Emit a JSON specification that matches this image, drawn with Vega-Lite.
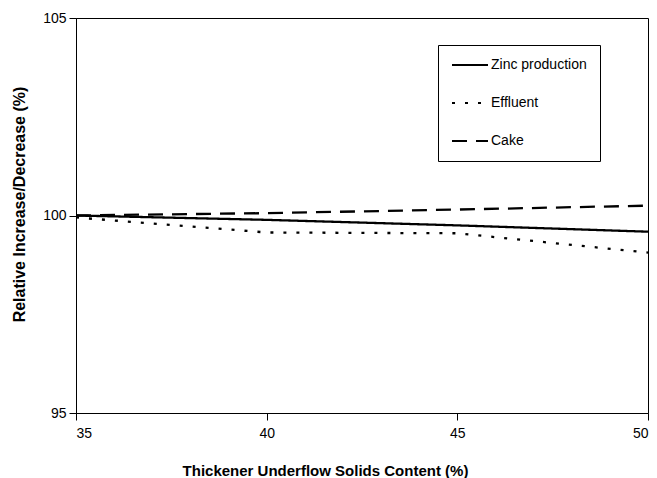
{
  "$schema": "https://vega.github.io/schema/vega-lite/v6.json",
  "width": 572,
  "height": 395,
  "autosize": {"type": "none"},
  "padding": {"left": 76, "top": 18, "right": 9, "bottom": 65},
  "background": "white",
  "config": {
    "font": "Liberation Sans",
    "view": {"stroke": "black", "strokeWidth": 1},
    "axis": {
      "grid": false,
      "domainColor": "black",
      "tickColor": "black",
      "tickSize": 7,
      "labelColor": "black",
      "labelFontSize": 14,
      "labelFont": "Liberation Sans",
      "titleFont": "Liberation Sans",
      "titleFontSize": 16,
      "titleFontWeight": "bold",
      "titleColor": "black"
    }
  },
  "data": {
    "values": [
      {"xv": 35, "yv": 100.0, "series": "Zinc production"},
      {"xv": 40, "yv": 99.89, "series": "Zinc production"},
      {"xv": 45, "yv": 99.75, "series": "Zinc production"},
      {"xv": 50, "yv": 99.59, "series": "Zinc production"},
      {"xv": 35, "yv": 99.95, "series": "Effluent"},
      {"xv": 40, "yv": 99.57, "series": "Effluent"},
      {"xv": 45, "yv": 99.55, "series": "Effluent"},
      {"xv": 50, "yv": 99.06, "series": "Effluent"},
      {"xv": 35, "yv": 100.0, "series": "Cake"},
      {"xv": 40, "yv": 100.06, "series": "Cake"},
      {"xv": 45, "yv": 100.15, "series": "Cake"},
      {"xv": 50, "yv": 100.25, "series": "Cake"}
    ]
  },
  "mark": {"type": "line", "color": "black", "strokeWidth": 2.3},
  "encoding": {
    "x": {
      "field": "xv",
      "type": "quantitative",
      "scale": {"domain": [35, 50], "nice": false, "zero": false},
      "axis": {"values": [35, 40, 45, 50], "labelPadding": 6, "title": "Thickener Underflow Solids Content (%)", "titleFontSize": 15, "titlePadding": 23, "titleX": 249, "titleAnchor": null, "titleAlign": "center"}
    },
    "y": {
      "field": "yv",
      "type": "quantitative",
      "scale": {"domain": [95, 105], "nice": false, "zero": false},
      "axis": {"values": [95, 100, 105], "labelPadding": 3, "title": "Relative Increase/Decrease (%)", "titlePadding": 15, "titleY": 186, "titleAlign": "center"}
    },
    "strokeDash": {
      "field": "series",
      "type": "nominal",
      "sort": ["Zinc production", "Effluent", "Cake"],
      "scale": {
        "range": [[1, 0], [3, 10], [15, 9]]
      },
      "legend": {
        "title": null,
        "orient": "none",
        "legendX": 362,
        "legendY": 27,
        "padding": 13,
        "rowPadding": 24,
        "fillColor": "white",
        "strokeColor": "black",
        "symbolType": "M-1,0H5",
        "symbolSize": 144,
        "symbolStrokeWidth": 2,
        "symbolStrokeColor": "black",
        "labelOffset": 26,
        "labelFontSize": 14,
        "labelColor": "black",
        "labelFont": "Liberation Sans"
      }
    }
  }
}
